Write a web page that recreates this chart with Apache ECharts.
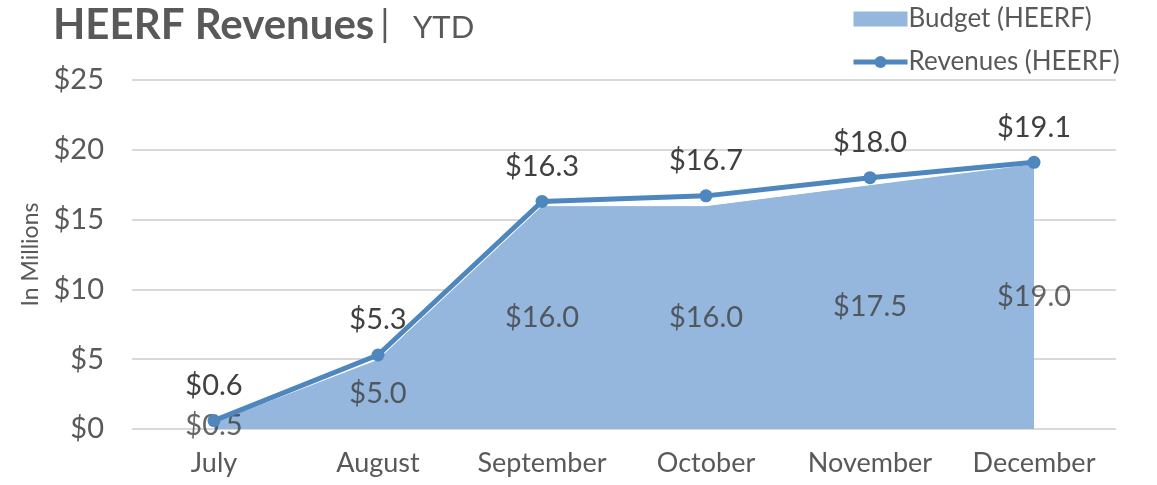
<!DOCTYPE html>
<html>
<head>
<meta charset="utf-8">
<script src="https://cdn.jsdelivr.net/npm/echarts@6/dist/echarts.min.js"></script>
<style>
  html, body { margin: 0; padding: 0; background: #fff; }
  #chart { width: 1157px; height: 485px; }
</style>
</head>
<body>
<div id="chart"></div>
<script>
const months = ["July", "August", "September", "October", "November", "December"];
const budget = [0.5, 5.0, 16.0, 16.0, 17.5, 19.0];
const revenues = [0.6, 5.3, 16.3, 16.7, 18.0, 19.1];
const yTicks = { min: 0, max: 25, interval: 5 };

const font = 'Lato, "Noto Sans", sans-serif';
const money = v => '$' + v.toFixed(1);

const chart = echarts.init(document.getElementById('chart'));

// budget labels sit half way up the filled area, like the original
const budgetMid = budget.map(v => v / 2);

chart.setOption({
    animation: false,
    textStyle: { fontFamily: font },
    title: {
        left: 48,
        top: -1,
        text: '{a|HEERF Revenues}{b|| }{c| YTD}',
        textStyle: {
            rich: {
                a: { fontSize: 42, fontWeight: 'bold', color: '#595959', fontFamily: font },
                b: { fontSize: 37, fontWeight: 'normal', color: '#595959', fontFamily: font, padding: [0, 0, 0, 6] },
                c: { fontSize: 31, fontWeight: 'normal', color: '#595959', fontFamily: font, padding: [5, 0, 0, 6] }
            }
        }
    },
    legend: {
        orient: 'vertical',
        left: 846,
        top: 1,
        itemWidth: 54,
        itemHeight: 15,
        itemGap: 17,
        textStyle: { fontSize: 26, color: '#595959', fontFamily: font, padding: [0, 0, 0, -4] },
        data: [
            { name: 'Budget (HEERF)', icon: 'rect' },
            { name: 'Revenues (HEERF)', lineStyle: { width: 5 } }
        ]
    },
    grid: { left: 132, right: 41, top: 80, bottom: 56 },
    xAxis: {
        type: 'category',
        data: months,
        boundaryGap: true,
        axisLine: { show: false },
        axisTick: { show: false },
        axisLabel: { interval: 0, fontSize: 27, color: '#595959', margin: 21, fontFamily: font }
    },
    yAxis: {
        type: 'value',
        min: yTicks.min,
        max: yTicks.max,
        interval: yTicks.interval,
        name: 'In Millions',
        nameLocation: 'middle',
        nameRotate: 90,
        nameGap: 90,
        nameTextStyle: { fontSize: 23, color: '#595959', fontFamily: font },
        axisLine: { show: false },
        axisTick: { show: false },
        axisLabel: { fontSize: 29, color: '#595959', margin: 28, formatter: v => '$' + v, fontFamily: font },
        splitLine: { lineStyle: { color: '#d9d9d9', width: 2 } }
    },
    series: [
        {
            name: 'Budget (HEERF)',
            type: 'line',
            data: budget,
            symbol: 'none',
            itemStyle: { color: '#95b6dd' },
            lineStyle: { width: 1, color: '#ffffff' },
            areaStyle: { color: '#95b6dd', opacity: 1 },
            z: 1
        },
        {
            name: 'budget-labels',
            type: 'scatter',
            data: budgetMid,
            symbolSize: 0,
            silent: true,
            label: {
                show: true,
                position: 'inside',
                fontSize: 29,
                color: '#404040',
                fontFamily: font,
                formatter: p => money(budget[p.dataIndex])
            },
            z: 3
        },
        {
            name: 'Revenues (HEERF)',
            type: 'line',
            data: revenues,
            symbol: 'circle',
            symbolSize: 13,
            itemStyle: { color: '#4e86be' },
            lineStyle: { width: 5, color: '#4e86be' },
            label: {
                show: true,
                position: 'top',
                distance: 14,
                fontSize: 29,
                color: '#404040',
                fontFamily: font,
                formatter: p => money(p.value)
            },
            z: 4
        }
    ]
});
</script>
</body>
</html>
